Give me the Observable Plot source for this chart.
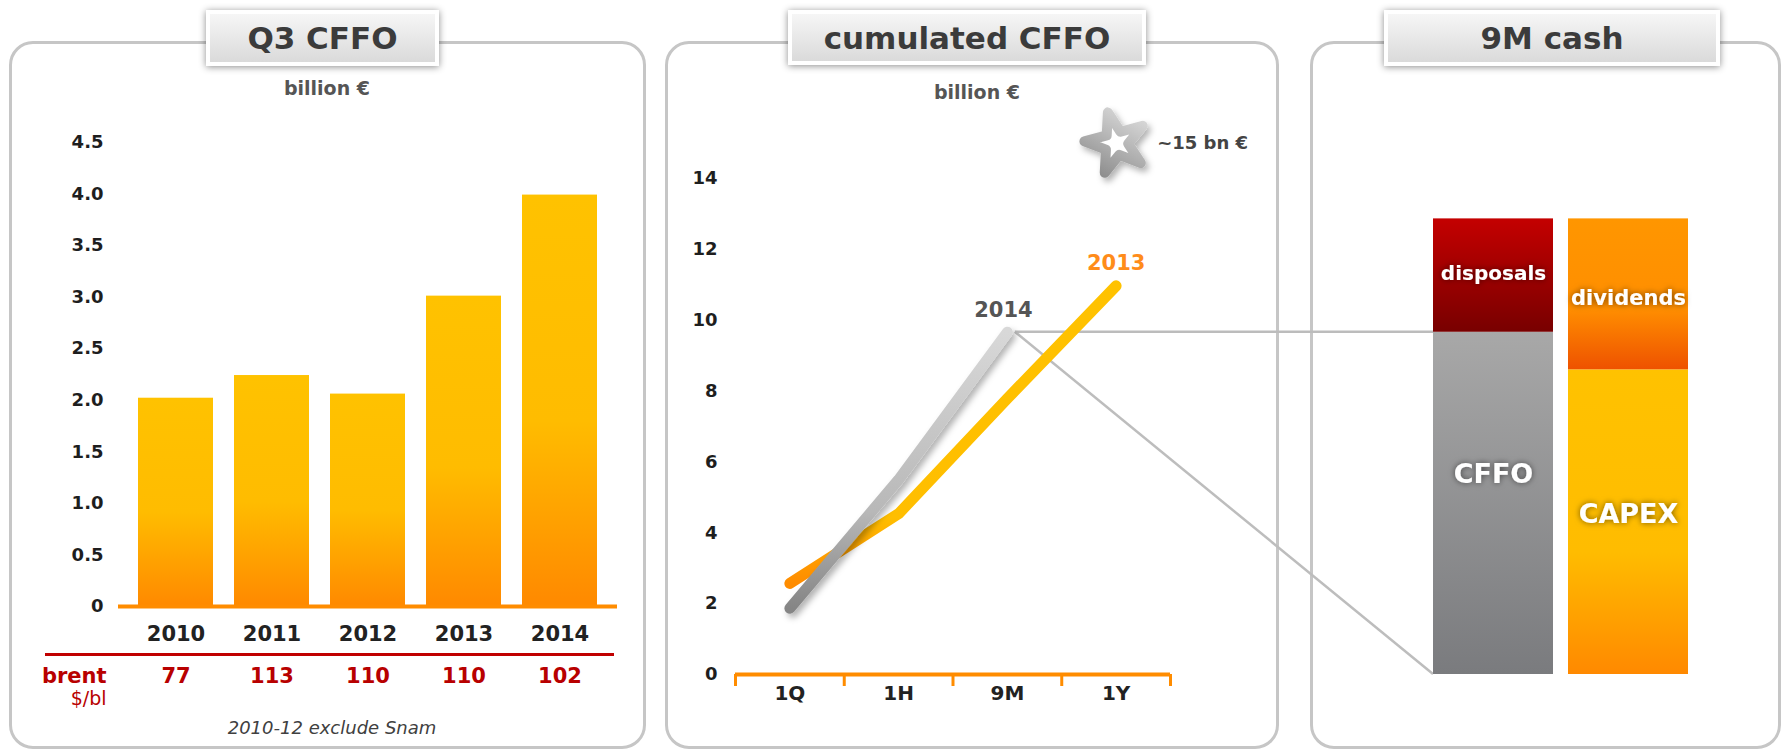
<!DOCTYPE html>
<html><head><meta charset="utf-8">
<script src="https://cdn.jsdelivr.net/npm/d3@7"></script>
<script src="https://cdn.jsdelivr.net/npm/@observablehq/plot@0.6"></script>
<style>
html,body{margin:0;padding:0;background:#fff;}
#root{position:relative;width:1783px;height:750px;overflow:hidden;font-family:"DejaVu Sans",Verdana,sans-serif;}
.panel{position:absolute;box-sizing:border-box;border:3px solid #c6c6c6;border-radius:24px;background:#fff;}
.tbox{position:absolute;box-sizing:border-box;border:4px solid #fff;background:linear-gradient(#f6f6f6,#dadada);box-shadow:0 1px 7px rgba(0,0,0,0.45);display:flex;align-items:center;justify-content:center;font-weight:bold;font-size:31px;color:#3b3b3b;}
.lbl{position:absolute;transform:translate(-50%,-50%);white-space:nowrap;}
.layer{position:absolute;left:0;top:0;}
</style></head><body><div id="root"></div>
<script>
// ---------- data ----------
const years = ["2010", "2011", "2012", "2013", "2014"];
const q3Cffo = [2.02, 2.24, 2.06, 3.01, 3.99];
const brent = [77, 113, 110, 110, 102];
const yTicks1 = [0, 0.5, 1, 1.5, 2, 2.5, 3, 3.5, 4, 4.5];

const periods = ["1Q", "1H", "9M", "1Y"];
const seriesNames = ["2013", "2014"];
const cffo2013 = [2.57, 4.54, 7.79, 10.97];
const cffo2014 = [1.87, 5.5, 9.66];
const target2014 = 15;
const yTicks2 = [0, 2, 4, 6, 8, 10, 12, 14];

const cashItems = ["CFFO", "disposals", "CAPEX", "dividends"];
const cashSide = ["sources", "sources", "uses", "uses"];
const cashValues = [9.66, 3.2, 8.6, 4.26];

const titles = ["Q3 CFFO", "cumulated CFFO", "9M cash"];
const unitLabel = "billion €";
const footnote = "2010-12 exclude Snam";

// ---------- layout ----------
const W = 1783, H = 750;
const root = document.getElementById("root");
const panels = [[9, 637], [665, 614], [1310, 471]];
panels.forEach(([l, w]) => {
  const d = document.createElement("div");
  d.className = "panel";
  Object.assign(d.style, {left: l + "px", top: "41px", width: w + "px", height: "708px"});
  root.appendChild(d);
});
const tboxes = [[206, 233, 56], [788, 358, 55], [1384, 336, 56]];
tboxes.forEach(([l, w, h], i) => {
  const d = document.createElement("div");
  d.className = "tbox";
  Object.assign(d.style, {left: l + "px", top: "10px", width: w + "px", height: h + "px"});
  d.textContent = titles[i];
  root.appendChild(d);
});
function label(text, x, y, css) {
  const d = document.createElement("div");
  d.className = "lbl";
  d.textContent = text;
  Object.assign(d.style, {left: x + "px", top: y + "px"}, css);
  root.appendChild(d);
}
label(unitLabel, 327, 88, {fontWeight: "bold", fontSize: "19px", color: "#555"});
label(unitLabel, 977, 92, {fontWeight: "bold", fontSize: "19px", color: "#555"});
label(footnote, 332, 727, {fontStyle: "italic", fontSize: "18px", color: "#404040"});

// gradients & filters
const defsSvg = d3.select(root).append("svg").attr("width", 0).attr("height", 0)
  .style("position", "absolute");
const defs = defsSvg.append("defs");
function grad(id, stops, [x1, y1, x2, y2] = [0, 0, 0, 1]) {
  const g = defs.append("linearGradient").attr("id", id)
    .attr("x1", x1).attr("y1", y1).attr("x2", x2).attr("y2", y2);
  stops.forEach(([o, c]) => g.append("stop").attr("offset", o).attr("stop-color", c));
}
grad("gBar", [[0, "#FFC200"], [0.55, "#FFBC00"], [1, "#FF8900"]]);
grad("g2013", [[0, "#FF8C00"], [0.1, "#FFA000"], [0.22, "#FFBE00"], [1, "#FFC200"]], [0, 1, 0, 0]);
grad("g2014", [[0, "#858585"], [0.35, "#b8b8b8"], [1, "#d8d8d8"]], [0, 1, 0, 0]);
grad("gStar", [[0, "#e2e2e2"], [1, "#8a8a8a"]], [1, 0, 0, 1]);
grad("g_CFFO", [[0, "#a8a8a8"], [1, "#7a7b7e"]]);
grad("g_disposals", [[0, "#C40000"], [1, "#780000"]]);
grad("g_dividends", [[0, "#FF9600"], [0.6, "#FF8E00"], [1, "#EE5200"]]);
grad("g_CAPEX", [[0, "#FFC200"], [0.6, "#FFBC00"], [1, "#FF8900"]]);
const f1 = defs.append("filter").attr("id", "glow").attr("x", "-20%").attr("y", "-40%").attr("width", "140%").attr("height", "180%");
f1.append("feDropShadow").attr("dx", 0).attr("dy", 0).attr("stdDeviation", 3).attr("flood-color", "#000").attr("flood-opacity", 0.55);
const f2 = defs.append("filter").attr("id", "shadow").attr("x", "-30%").attr("y", "-30%").attr("width", "160%").attr("height", "160%");
f2.append("feDropShadow").attr("dx", 3).attr("dy", 4).attr("stdDeviation", 3).attr("flood-color", "#000").attr("flood-opacity", 0.3);

const font = "'DejaVu Sans', Verdana, sans-serif";
const baseStyle = {background: "transparent", fontFamily: font, fontWeight: "bold", overflow: "visible"};

// ---------- panel 1 ----------
const q3 = years.map((year, i) => ({year, value: q3Cffo[i], brent: brent[i]}));
const p1 = Plot.plot({
  width: W, height: H,
  marginLeft: 118, marginRight: W - 617, marginTop: 142, marginBottom: H - 606,
  style: baseStyle,
  x: {domain: years, paddingInner: 0.22, paddingOuter: 0.2, axis: null, label: null},
  y: {domain: [0, 4.5], axis: null, label: null},
  marks: [
    Plot.barY(q3, {x: "year", y: "value", fill: "url(#gBar)"}),
    Plot.ruleY([0], {stroke: "#FF8C00", strokeWidth: 4}),
    Plot.axisY({ticks: yTicks1, label: null, tickSize: 0, tickPadding: 15, tickFormat: d => d === 0 ? "0" : d.toFixed(1), fontSize: 18, fill: "#1e1e1e"}),
    Plot.axisX({label: null, tickSize: 0, tickPadding: 20, fontSize: 21, fill: "#222"}),
    Plot.ruleY([0], {dy: 48, stroke: "#C00000", strokeWidth: 3, insetLeft: -73, insetRight: 3}),
    Plot.text(q3, {x: "year", text: "brent", frameAnchor: "bottom", dy: 76, fill: "#B80000", fontSize: 21}),
    Plot.text(["brent"], {text: d => d, frameAnchor: "bottom-left", dx: -12, dy: 76, textAnchor: "end", fill: "#B80000", fontSize: 21}),
    Plot.text(["$/bl"], {text: d => d, frameAnchor: "bottom-left", dx: -12, dy: 98, textAnchor: "end", fill: "#B80000", fontSize: 19, fontWeight: "normal"})
  ]
});

// ---------- panel 2 ----------
const xi = (d, i) => i + 0.5;
const p2 = Plot.plot({
  width: W, height: H,
  marginLeft: 735, marginRight: W - 1170, marginTop: 178, marginBottom: H - 674,
  style: baseStyle,
  x: {domain: [0, periods.length], axis: null, label: null},
  y: {domain: [0, 14], axis: null, label: null},
  marks: [
    Plot.ruleY([0], {stroke: "#FF8C00", strokeWidth: 4}),
    Plot.axisX({ticks: d3.range(periods.length + 1), label: null, tickSize: 12, tickFormat: () => "", stroke: "#FF8C00", strokeWidth: 3}),
    Plot.axisX({ticks: periods.map((_, i) => i + 0.5), label: null, tickSize: 0, tickPadding: 11, tickFormat: d => periods[Math.round(d - 0.5)], fontSize: 20, fill: "#222"}),
    Plot.axisY({ticks: yTicks2, label: null, tickSize: 0, tickPadding: 18, fontSize: 18, fill: "#1e1e1e"}),
    Plot.line(cffo2013, {x: xi, y: d => d, stroke: "url(#g2013)", strokeWidth: 11, strokeLinecap: "round", strokeLinejoin: "round"}),
    Plot.line(cffo2014, {x: xi, y: d => d, stroke: "url(#g2014)", strokeWidth: 11, strokeLinecap: "round", strokeLinejoin: "round"}),
    Plot.text(cffo2013, Plot.selectLast({x: xi, y: d => d, text: () => seriesNames[0], dy: -23, fill: "#FF8C1A", fontSize: 21, letterSpacing: "1.5px"})),
    Plot.text(cffo2014, Plot.selectLast({x: xi, y: d => d, text: () => seriesNames[1], dy: -22, dx: -4, fill: "#555", fontSize: 21})),
    Plot.dot([target2014], {x: periods.indexOf("1Y") + 0.5, y: d => d, symbol: "star", r: 19, fill: "#fff", stroke: "url(#gStar)", strokeWidth: 10, strokeLinejoin: "round", rotate: -15}),
    Plot.text([target2014], {x: periods.indexOf("1Y") + 0.5, y: d => d, text: d => `~${d} bn €`, dx: 41, textAnchor: "start", fill: "#444", fontSize: 18})
  ]
});

// ---------- panel 3 ----------
const cash = cashItems.map((item, i) => ({item, side: cashSide[i], value: cashValues[i]}));
const labelDy = [-29, -2, -8, 4];
const labelSize = [27, 20, 27, 21];
const p3 = Plot.plot({
  width: W, height: H,
  marginLeft: 1432, marginRight: W - 1689, marginTop: 178, marginBottom: H - 674,
  style: baseStyle,
  x: {domain: ["sources", "uses"], paddingInner: 0.11, paddingOuter: 0, axis: null, label: null},
  y: {domain: [0, 14], axis: null, label: null},
  color: {type: "identity"},
  marks: [
    Plot.barY(cash, {x: "side", y: "value", fill: d => `url(#g_${d.item})`}),
    ...cashItems.map((it, k) => Plot.text(cash, Plot.stackY({x: "side", y: "value", text: d => d.item === it ? d.item : null, dy: labelDy[k], fill: "white", fontSize: labelSize[k]})))
  ]
});

// ---------- assemble ----------
function addLayer(svg) {
  const d = document.createElement("div");
  d.className = "layer";
  d.appendChild(svg);
  root.appendChild(d);
  return d;
}
addLayer(p1);
// connectors (drawn from the two panels' own scales)
const sx2 = p2.scale("x"), sy2 = p2.scale("y"), sx3 = p3.scale("x"), sy3 = p3.scale("y");
const A = [sx2.apply(periods.indexOf("9M") + 0.5) + 8, sy2.apply(cffo2014[2])];
const B = [sx3.apply("sources"), sy3.apply(cashValues[0])];
const C = [sx3.apply("sources"), sy3.apply(0)];
const conn = d3.select(root).append("div").attr("class", "layer").append("svg")
  .attr("width", W).attr("height", H);
conn.append("line").attr("x1", A[0]).attr("y1", A[1]).attr("x2", B[0]).attr("y2", B[1])
  .attr("stroke", "#bcbcbc").attr("stroke-width", 2.5);
conn.append("line").attr("x1", A[0]).attr("y1", A[1]).attr("x2", C[0]).attr("y2", C[1])
  .attr("stroke", "#bdbdbd").attr("stroke-width", 2.5);
addLayer(p2);
addLayer(p3);

d3.select(p2).selectAll('g[stroke="url(#g2014)"]').attr("filter", "url(#shadow)");
d3.select(p2).selectAll('g[aria-label="dot"]').attr("filter", "url(#shadow)");
d3.select(p3).selectAll('g[aria-label="text"]').attr("filter", "url(#glow)");
</script></body></html>
